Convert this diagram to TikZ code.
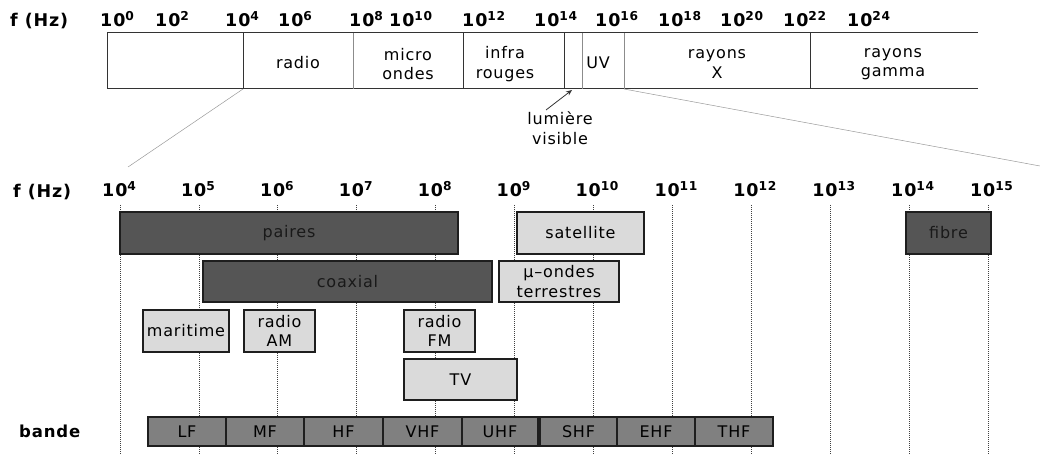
\documentclass[tikz,border=0pt]{standalone}
\usepackage{fontspec}
\setmainfont{DejaVu Sans}[LetterSpace=5]
\usetikzlibrary{arrows.meta}
\definecolor{darkfill}{RGB}{85,85,85}
\definecolor{lightfill}{RGB}{218,218,218}
\definecolor{bandfill}{RGB}{128,128,128}
\definecolor{boxline}{RGB}{30,30,30}
\begin{document}
\begin{tikzpicture}[x=1pt,y=-1pt,
  axislbl/.style={font=\fontsize{17.5}{20}\selectfont\bfseries, inner sep=0pt, anchor=base west},
  boxtxt/.style={font=\fontsize{16}{19.5}\selectfont, align=center, inner sep=0pt},
  darkbox/.style={draw=boxline, line width=1.2pt, fill=darkfill, text=black!90, font=\fontsize{16}{19.5}\selectfont, align=center, inner sep=0pt},
  lightbox/.style={draw=boxline, line width=1.2pt, fill=lightfill, text=black, font=\fontsize{16}{19.5}\selectfont, align=center, inner sep=0pt},
  bandbox/.style={draw=boxline, line width=1.2pt, fill=bandfill, text=black, font=\fontsize{16}{19}\selectfont, inner sep=0pt, minimum height=29pt},
  gridline/.style={draw=black!75, line width=0.8pt, dash pattern=on 1pt off 1pt},
  zoomline/.style={draw=black!40, line width=0.5pt},
  frameline/.style={draw=black!80, line width=1pt},
]
\useasboundingbox (0,0) rectangle (1040,462);

% ---------- top spectrum ----------
\node[axislbl] (ftop) at (10,27) {f (Hz)};
\foreach \e/\x in {0/100,2/155,4/225,6/278,8/349,10/389,12/462,14/534,16/595,18/658,20/720,22/783,24/847}{
  \node[axislbl] (t\e) at (\x,27) {10\textsuperscript{\e}};
}
\draw[frameline] (978,33) -- (107,33) -- (107,89) -- (978,89);
\foreach \x/\c in {243/black!80,353/black!45,463/black!80,564/black!80,582/black!45,624/black!45,810/black!80}{
  \draw[line width=1pt, draw=\c] (\x,33) -- (\x,89);
}
\node[boxtxt] (tradio) at (298,63) {radio};
\node[boxtxt] (tmicro) at (408,64) {micro\\ondes};
\node[boxtxt] (tinfra) at (505,64) {infra\\rouges};
\node[boxtxt] (tuv) at (598,63) {UV};
\node[boxtxt] (tx) at (717,64) {rayons\\X};
\node[boxtxt] (tgamma) at (893,64) {rayons\\gamma};

\node[boxtxt, align=center] (lum) at (560,128) {lumière\\visible};
\coordinate (lumtail) at (546,110);
\coordinate (vis) at (572,90);
\draw[-{Stealth[length=6pt,width=5pt]}, line width=0.8pt, black!80] (lumtail) -- (vis);

\coordinate (radioL) at (243,89);
\coordinate (uvR) at (624,89);
\coordinate (zl) at (128,167);
\coordinate (zr) at (1040,166);
\draw[zoomline] (radioL) -- (zl);
\draw[zoomline] (uvR) -- (zr);

% ---------- bottom chart ----------
\node[axislbl] (fbot) at (13,198) {f (Hz)};
\foreach \k in {4,...,15}{
  \pgfmathsetmacro{\xx}{120+78.9*(\k-4)}
  \coordinate (g\k a) at (\xx,205);
  \coordinate (g\k b) at (\xx,455);
  \draw[gridline] (g\k a) -- (g\k b);
  \node[axislbl] (b\k) at (\xx-18,197) {10\textsuperscript{\k}};
}

\node[darkbox, minimum width=338pt, minimum height=42pt] (paires) at (289,233) {paires};
\node[darkbox, minimum width=289pt, minimum height=41pt] (coaxial) at (347.5,281.5) {coaxial};
\node[lightbox, minimum width=127pt, minimum height=42pt] (satellite) at (580.5,233) {satellite};
\node[lightbox, minimum width=120pt, minimum height=41pt] (terr) at (559,281.5) {µ–ondes\\terrestres};
\node[darkbox, minimum width=85pt, minimum height=42pt] (fibre) at (948.5,233) {fibre};
\node[lightbox, minimum width=86pt, minimum height=42pt] (maritime) at (186,331) {maritime};
\node[lightbox, minimum width=71pt, minimum height=42pt] (am) at (279.5,331) {radio\\AM};
\node[lightbox, minimum width=71pt, minimum height=42pt] (fm) at (439.5,331) {radio\\FM};
\node[lightbox, minimum width=113pt, minimum height=41pt] (tv) at (460.5,379.5) {TV};

\node[axislbl, font=\fontsize{16.5}{18}\selectfont\bfseries] (bande) at (19,437) {bande};
\node[bandbox, minimum width=78pt] (LF) at (187,431.5) {LF};
\node[bandbox, minimum width=78pt] (MF) at (265,431.5) {MF};
\node[bandbox, minimum width=79pt] (HF) at (343.5,431.5) {HF};
\node[bandbox, minimum width=79pt] (VHF) at (422.5,431.5) {VHF};
\node[bandbox, minimum width=76pt] (UHF) at (500,431.5) {UHF};
\node[bandbox, minimum width=77pt] (SHF) at (578.5,431.5) {SHF};
\node[bandbox, minimum width=78pt] (EHF) at (656,431.5) {EHF};
\node[bandbox, minimum width=78pt] (THF) at (734,431.5) {THF};
\end{tikzpicture}
\end{document}
